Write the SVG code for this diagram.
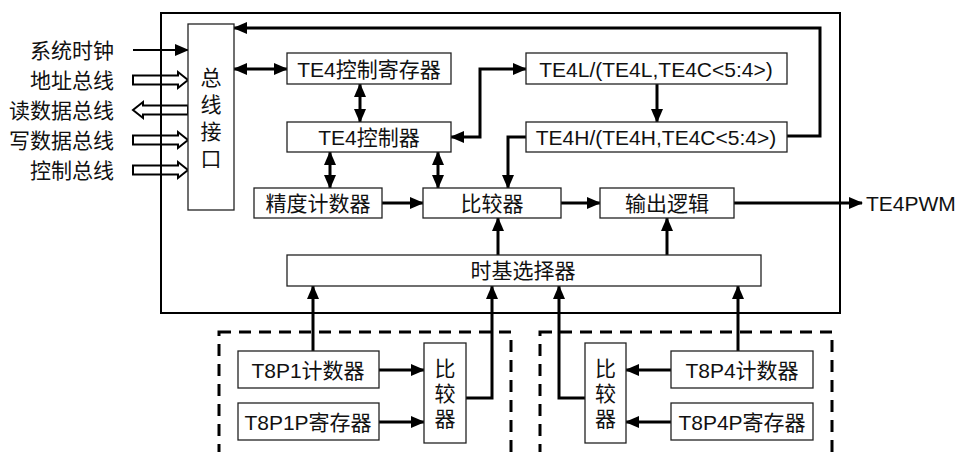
<svg xmlns="http://www.w3.org/2000/svg" width="959" height="452" viewBox="0 0 959 452">
<style>
text{font-family:"Liberation Sans","Noto Sans CJK SC",sans-serif;font-size:21px;fill:#111;text-anchor:middle;dominant-baseline:central}
.lbl{text-anchor:end}
.box{fill:#fff;stroke:#222;stroke-width:1.3}
.ln{fill:none;stroke:#000;stroke-width:3}
.hol{fill:none;stroke:#000;stroke-width:2}
.dash{fill:none;stroke:#000;stroke-width:3;stroke-dasharray:12 8}
</style>
<defs>
<marker id="ah" markerUnits="userSpaceOnUse" markerWidth="14" markerHeight="12" refX="13" refY="6" orient="auto"><path d="M0,0 L14,6 L0,12 z" fill="#000"/></marker>
<marker id="as" markerUnits="userSpaceOnUse" markerWidth="14" markerHeight="12" refX="1" refY="6" orient="auto"><path d="M14,0 L0,6 L14,12 z" fill="#000"/></marker>
</defs>
<g id="inputs">
<text class="lbl" x="114" y="50">系统时钟</text>
<text class="lbl" x="114" y="80">地址总线</text>
<text class="lbl" x="114" y="110">读数据总线</text>
<text class="lbl" x="114" y="140">写数据总线</text>
<text class="lbl" x="114" y="170">控制总线</text>
<polygon class="hol" points="133,75.5 178,75.5 178,72 188,80 178,88 178,84.5 133,84.5"/>
<polygon class="hol" points="188,105.5 143,105.5 143,102 133,110 143,118 143,114.5 188,114.5"/>
<polygon class="hol" points="133,135.5 178,135.5 178,132 188,140 178,148 178,144.5 133,144.5"/>
<polygon class="hol" points="133,165.5 178,165.5 178,162 188,170 178,178 178,174.5 133,174.5"/>
</g>
<g id="outer"><rect x="161" y="13" width="679" height="300" fill="none" stroke="#000" stroke-width="2"/></g>
<g id="connectors">
<path class="ln" d="M133,50 H188" marker-end="url(#ah)" style="stroke-width:2"/>
<path class="ln" d="M787,136 H820 V28 H234" marker-end="url(#ah)"/>
<path class="ln" d="M234,69 H287" marker-start="url(#as)" marker-end="url(#ah)"/>
<path class="ln" d="M360,84 V122" marker-start="url(#as)" marker-end="url(#ah)"/>
<path class="ln" d="M451,137 H480 V69 H526" marker-start="url(#as)" marker-end="url(#ah)"/>
<path class="ln" d="M657,84 V122" marker-end="url(#ah)"/>
<path class="ln" d="M526,137 H508 V188" marker-end="url(#ah)"/>
<path class="ln" d="M330,152 V188" marker-start="url(#as)" marker-end="url(#ah)"/>
<path class="ln" d="M438,152 V188" marker-start="url(#as)" marker-end="url(#ah)"/>
<path class="ln" d="M382,203 H423" marker-end="url(#ah)"/>
<path class="ln" d="M561,203 H600" marker-end="url(#ah)"/>
<path class="ln" d="M734,203 H862" marker-end="url(#ah)"/>
<path class="ln" d="M498,255 V218" marker-end="url(#ah)"/>
<path class="ln" d="M667,255 V218" marker-end="url(#ah)"/>
<path class="ln" d="M313,351 V286" marker-end="url(#ah)"/>
<path class="ln" d="M466,398 H492 V286" marker-end="url(#ah)"/>
<path class="ln" d="M738,351 V286" marker-end="url(#ah)"/>
<path class="ln" d="M585,398 H559 V286" marker-end="url(#ah)"/>
<path class="ln" d="M379,370 H424" marker-end="url(#ah)"/>
<path class="ln" d="M379,422 H424" marker-end="url(#ah)"/>
<path class="ln" d="M671,370 H626" marker-end="url(#ah)"/>
<path class="ln" d="M671,422 H626" marker-end="url(#ah)"/>
</g>
<g id="bus"><rect class="box" x="188" y="24" width="46" height="186"/>
<text x="211" y="77">总</text><text x="211" y="104">线</text><text x="211" y="131">接</text><text x="211" y="158">口</text></g>
<g id="ctrlreg"><rect class="box" x="287" y="53" width="164" height="31"/><text x="369" y="69">TE4控制寄存器</text></g>
<g id="ctrl"><rect class="box" x="287" y="122" width="164" height="30"/><text x="369" y="137">TE4控制器</text></g>
<g id="te4l"><rect class="box" x="526" y="53" width="261" height="31"/><text x="656" y="69">TE4L/(TE4L,TE4C&lt;5:4&gt;)</text></g>
<g id="te4h"><rect class="box" x="526" y="122" width="261" height="30"/><text x="656" y="137">TE4H/(TE4H,TE4C&lt;5:4&gt;)</text></g>
<g id="prec"><rect class="box" x="254" y="188" width="128" height="30"/><text x="318" y="203">精度计数器</text></g>
<g id="cmp"><rect class="box" x="423" y="188" width="138" height="30"/><text x="492" y="203">比较器</text></g>
<g id="outlogic"><rect class="box" x="600" y="188" width="134" height="30"/><text x="667" y="203">输出逻辑</text></g>
<g id="pwm"><text x="866" y="203" style="text-anchor:start">TE4PWM</text></g>
<g id="timebase"><rect class="box" x="287" y="255" width="474" height="31"/><text x="523" y="270">时基选择器</text></g>
<g id="grp1"><rect class="dash" x="219" y="332" width="292" height="140"/></g>
<g id="grp4"><rect class="dash" x="540" y="332" width="292" height="140"/></g>
<g id="t8p1c"><rect class="box" x="238" y="351" width="141" height="37"/><text x="308" y="370">T8P1计数器</text></g>
<g id="t8p1p"><rect class="box" x="238" y="403" width="141" height="37"/><text x="308" y="422">T8P1P寄存器</text></g>
<g id="cmp1"><rect class="box" x="424" y="343" width="42" height="100"/><text x="445" y="368">比</text><text x="445" y="393">较</text><text x="445" y="418">器</text></g>
<g id="cmp4"><rect class="box" x="585" y="343" width="41" height="100"/><text x="605.5" y="368">比</text><text x="605.5" y="393">较</text><text x="605.5" y="418">器</text></g>
<g id="t8p4c"><rect class="box" x="671" y="351" width="142" height="37"/><text x="742" y="370">T8P4计数器</text></g>
<g id="t8p4p"><rect class="box" x="671" y="403" width="142" height="37"/><text x="742" y="422">T8P4P寄存器</text></g>
</svg>
